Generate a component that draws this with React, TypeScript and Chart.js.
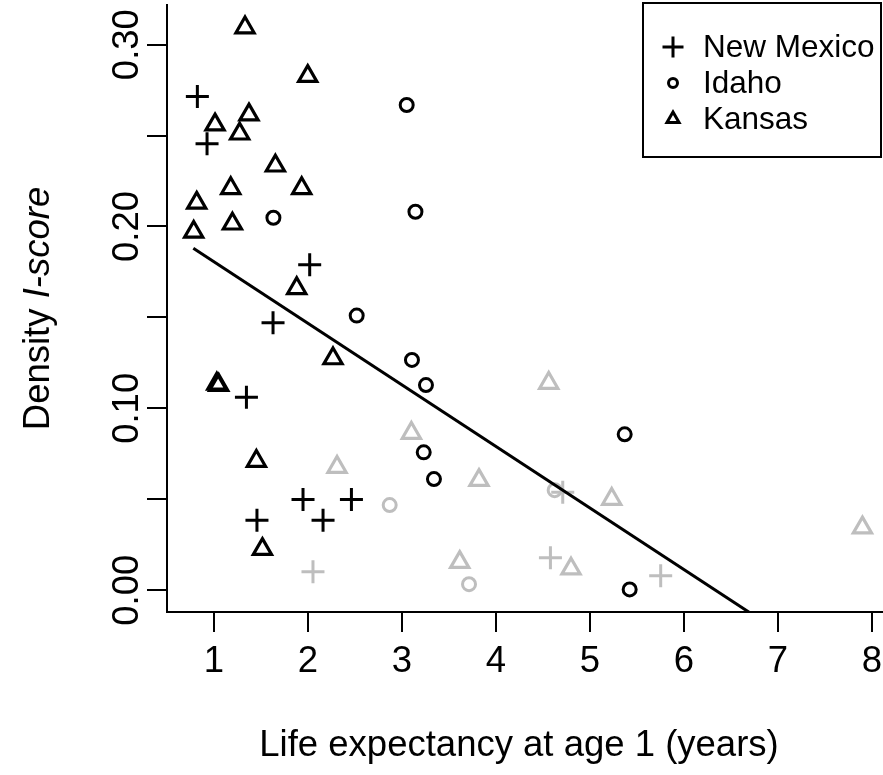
import React, { useEffect, useRef } from 'react';
import { Chart, registerables } from 'chart.js';

Chart.register(...registerables);

// ---------- data ----------
const nmX = [0.823, 0.926, 2.018, 1.628, 1.345, 1.947, 2.462, 2.16, 1.457];
const nmY = [0.2715, 0.2455, 0.1789, 0.1471, 0.1061, 0.0499, 0.0499, 0.0385, 0.0385];
const nmGrayX = [2.053, 4.579, 5.752, 4.71];
const nmGrayY = [0.0101, 0.0178, 0.0079, 0.0539];

const idX = [3.05, 3.143, 1.632, 2.518, 3.106, 3.255, 3.231, 3.34, 5.369, 5.422];
const idY = [0.2668, 0.2081, 0.2048, 0.151, 0.1266, 0.1128, 0.0758, 0.0611, 0.0857, 0.0004];
const idGrayX = [2.869, 3.713, 4.624];
const idGrayY = [0.0468, 0.0033, 0.055];

const ksX = [1.33, 1.997, 1.372, 1.011, 1.273, 1.653, 1.178, 1.933, 0.816, 1.196, 0.784, 1.88, 2.266, 1.03, 1.05, 1.451, 1.515];
const ksY = [0.3094, 0.2827, 0.2615, 0.256, 0.251, 0.2334, 0.221, 0.221, 0.213, 0.2015, 0.197, 0.166, 0.1274, 0.1135, 0.1128, 0.071, 0.0226];
const ksGrayX = [2.309, 3.1, 4.561, 3.819, 5.231, 3.614, 4.798, 7.898];
const ksGrayY = [0.0677, 0.0864, 0.1139, 0.0605, 0.0501, 0.0154, 0.0118, 0.0344];

const fitX = [0.78, 7.9];
const fitY = [0.188, -0.053];

const xTickValues = [1, 2, 3, 4, 5, 6, 7, 8];
const yTickLabels = ['0.00', '0.10', '0.20', '0.30'];
const legendLabels = ['New Mexico', 'Idaho', 'Kansas'];
const xTitle = 'Life expectancy at age 1 (years)';
const yTitleMain = 'Density ';
const yTitleItalic = 'I-score';

const FONT = '"Liberation Sans", Arial, Helvetica, sans-serif';
const AXIS_SIZE = 36.5;
const LEGEND_SIZE = 31.5;
const BLACK = '#000000';
const GRAY = '#BEBEBE';

const pts = (xs: number[], ys: number[]) => xs.map((x, i) => ({ x, y: ys[i] }));

const textPlugin = {
  id: 'textPlugin',
  afterDraw(chart: any) {
    const ctx = chart.ctx as CanvasRenderingContext2D;
    const yScale = chart.scales.y;
    const area = chart.chartArea;

    // y tick labels (rotated, like R)
    ctx.save();
    ctx.fillStyle = BLACK;
    ctx.font = `${AXIS_SIZE}px ${FONT}`;
    ctx.textAlign = 'center';
    ctx.textBaseline = 'alphabetic';
    yTickLabels.forEach((lab) => {
      const py = yScale.getPixelForValue(parseFloat(lab));
      ctx.save();
      ctx.translate(138, py);
      ctx.rotate(-Math.PI / 2);
      ctx.fillText(lab, 0, 0);
      ctx.restore();
    });
    ctx.restore();

    // y title with italic part
    ctx.save();
    ctx.fillStyle = BLACK;
    const cy = (area.top + area.bottom) / 2;
    ctx.translate(49, cy);
    ctx.rotate(-Math.PI / 2);
    ctx.textBaseline = 'alphabetic';
    ctx.textAlign = 'left';
    ctx.font = `${AXIS_SIZE}px ${FONT}`;
    const w1 = ctx.measureText(yTitleMain).width;
    ctx.font = `italic ${AXIS_SIZE}px ${FONT}`;
    const w2 = ctx.measureText(yTitleItalic).width;
    const start = -(w1 + w2) / 2;
    ctx.font = `${AXIS_SIZE}px ${FONT}`;
    ctx.fillText(yTitleMain, start, 0);
    ctx.font = `italic ${AXIS_SIZE}px ${FONT}`;
    ctx.fillText(yTitleItalic, start + w1, 0);
    ctx.restore();

    // x title
    ctx.save();
    ctx.fillStyle = BLACK;
    ctx.font = `${AXIS_SIZE}px ${FONT}`;
    ctx.textAlign = 'center';
    ctx.textBaseline = 'middle';
    ctx.fillText(xTitle, 519, 746);
    ctx.restore();

    // legend
    ctx.save();
    ctx.strokeStyle = BLACK;
    ctx.lineWidth = 2;
    ctx.strokeRect(643, 3, 238, 154);
    ctx.lineWidth = 3;
    const sx = 673;
    const rows = [47, 83, 119];
    // cross
    ctx.beginPath();
    ctx.moveTo(sx - 10.5, rows[0]);
    ctx.lineTo(sx + 10.5, rows[0]);
    ctx.moveTo(sx, rows[0] - 10.5);
    ctx.lineTo(sx, rows[0] + 10.5);
    ctx.stroke();
    // circle
    ctx.beginPath();
    ctx.arc(sx, rows[1], 4.5, 0, Math.PI * 2);
    ctx.stroke();
    // triangle
    const r = 7;
    ctx.beginPath();
    ctx.moveTo(sx, rows[2] - r);
    ctx.lineTo(sx + r * Math.sin((2 * Math.PI) / 3), rows[2] - r * Math.cos((2 * Math.PI) / 3));
    ctx.lineTo(sx + r * Math.sin((4 * Math.PI) / 3), rows[2] - r * Math.cos((4 * Math.PI) / 3));
    ctx.closePath();
    ctx.stroke();
    ctx.fillStyle = BLACK;
    ctx.font = `${LEGEND_SIZE}px ${FONT}`;
    ctx.textAlign = 'left';
    ctx.textBaseline = 'middle';
    legendLabels.forEach((lab, i) => ctx.fillText(lab, 703, rows[i] + 1));
    ctx.restore();
  },
};

export default function App() {
  const ref = useRef<HTMLCanvasElement | null>(null);

  useEffect(() => {
    if (!ref.current) return;
    const chart = new Chart(ref.current, {
      type: 'scatter',
      data: {
        datasets: [
          {
            label: 'fit',
            data: pts(fitX, fitY),
            showLine: true,
            borderColor: BLACK,
            borderWidth: 3,
            pointRadius: 0,
            order: 0,
          },
          {
            label: legendLabels[0],
            data: pts(nmX, nmY),
            pointStyle: 'cross',
            pointRadius: 11.5,
            borderColor: BLACK,
            borderWidth: 3,
            order: 1,
          },
          {
            label: legendLabels[1],
            data: pts(idX, idY),
            pointStyle: 'circle',
            pointRadius: 6.5,
            borderColor: BLACK,
            backgroundColor: 'rgba(0,0,0,0)',
            borderWidth: 3,
            order: 1,
          },
          {
            label: legendLabels[2],
            data: pts(ksX, ksY),
            pointStyle: 'triangle',
            pointRadius: 10.5,
            borderColor: BLACK,
            backgroundColor: 'rgba(0,0,0,0)',
            borderWidth: 3.2,
            order: 1,
          },
          {
            label: 'nm-gray',
            data: pts(nmGrayX, nmGrayY),
            pointStyle: 'cross',
            pointRadius: 11.5,
            borderColor: GRAY,
            borderWidth: 3,
            order: 2,
          },
          {
            label: 'id-gray',
            data: pts(idGrayX, idGrayY),
            pointStyle: 'circle',
            pointRadius: 6.5,
            borderColor: GRAY,
            backgroundColor: 'rgba(0,0,0,0)',
            borderWidth: 3,
            order: 2,
          },
          {
            label: 'ks-gray',
            data: pts(ksGrayX, ksGrayY),
            pointStyle: 'triangle',
            pointRadius: 10.5,
            borderColor: GRAY,
            backgroundColor: 'rgba(0,0,0,0)',
            borderWidth: 3.2,
            order: 2,
          },
        ],
      },
      options: {
        animation: false,
        responsive: true,
        maintainAspectRatio: false,
        events: [],
        layout: { autoPadding: false, padding: { top: 5, left: 0, right: 0, bottom: 0 } },
        plugins: {
          legend: { display: false },
          tooltip: { enabled: false },
          title: { display: false },
        },
        scales: {
          x: {
            type: 'linear',
            position: 'bottom',
            min: 0.5,
            max: 8.117,
            afterFit: (s: any) => {
              s.height = 163;
              s.paddingLeft = 0;
              s.paddingRight = 0;
            },
            afterBuildTicks: (s: any) => {
              s.ticks = xTickValues.map((v) => ({ value: v }));
            },
            ticks: {
              color: BLACK,
              font: { family: FONT, size: AXIS_SIZE },
              padding: 8,
              autoSkip: false,
              maxRotation: 0,
              minRotation: 0,
              callback: (v: any) => String(v),
            },
            grid: {
              display: true,
              drawOnChartArea: false,
              drawTicks: true,
              tickLength: 20,
              color: BLACK,
              lineWidth: 2,
            },
            border: { display: true, color: BLACK, width: 2 },
          },
          y: {
            type: 'linear',
            min: -0.012,
            max: 0.3218,
            afterFit: (s: any) => {
              s.width = 167;
              s.paddingTop = 0;
              s.paddingBottom = 0;
            },
            ticks: {
              display: false,
              stepSize: 0.05,
              includeBounds: false,
            },
            grid: {
              display: true,
              drawOnChartArea: false,
              drawTicks: true,
              tickLength: 20,
              color: BLACK,
              lineWidth: 2,
            },
            border: { display: true, color: BLACK, width: 2 },
          },
        },
      },
      plugins: [textPlugin],
    } as any);
    return () => chart.destroy();
  }, []);

  return (
    <div style={{ position: 'fixed', left: 0, top: 0, width: 883, height: 775, background: '#fff' }}>
      <canvas ref={ref} />
    </div>
  );
}
